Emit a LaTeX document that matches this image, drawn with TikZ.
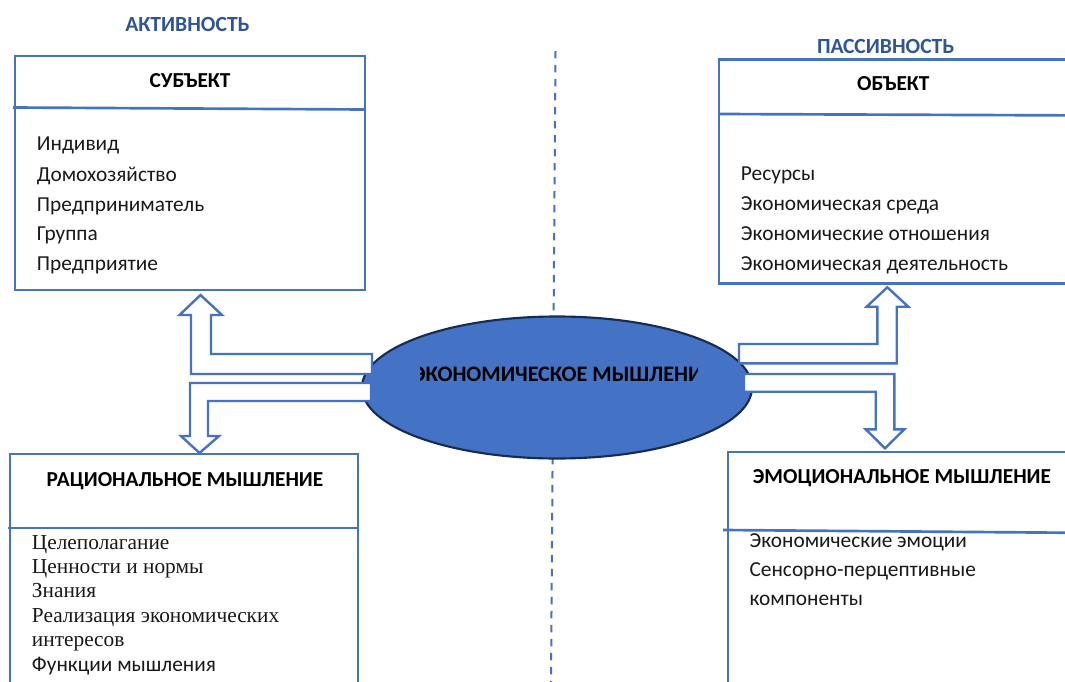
\documentclass[tikz,border=0pt]{standalone}
\usepackage{fontspec}
\usetikzlibrary{shapes.geometric}
\setmainfont{Carlito}
\newfontfamily\timesfont{Liberation Serif}
\definecolor{boxblue}{HTML}{4472C4}
\definecolor{headblue}{HTML}{2F5597}
\definecolor{ellborder}{HTML}{172C51}
\begin{document}
\begin{tikzpicture}[x=0.75pt,y=-0.75pt,
  boxnode/.style={draw=boxblue, line width=2pt, fill=white, rectangle, inner sep=0pt},
  divline/.style={draw=boxblue, line width=2pt},
  dashline/.style={draw=boxblue, line width=1.5pt, dash pattern=on 5.5pt off 5pt},
  ell/.style={ellipse, draw=ellborder, line width=1.6pt, fill=boxblue, inner sep=0pt,
    minimum width=292.5pt, minimum height=106.5pt},
  blockarrow/.style={draw=boxblue, line width=1.8pt, fill=white, line join=miter},
  heading/.style={font=\fontsize{16.2}{19}\selectfont\bfseries, text=headblue, anchor=base, inner sep=0pt},
  title/.style={font=\fontsize{16}{19}\selectfont\bfseries, text=black, anchor=base, inner sep=0pt},
  item/.style={font=\fontsize{16}{19}\selectfont, text=black!90, anchor=base west, inner sep=0pt},
  sitem/.style={font=\timesfont\fontsize{16}{19}\selectfont, text=black!90, anchor=base west, inner sep=0pt},
  elltext/.style={font=\fontsize{16.6}{19}\selectfont\bfseries, text=black, anchor=base, inner sep=0pt}]
\clip (0,0) rectangle (1065,682);
\fill[white] (0,0) rectangle (1065,682);

% dashed axis
\coordinate (dtop) at (555.5,51);
\coordinate (dbot) at (551,682);
\draw[dashline] (dtop) -- (dbot);

% central ellipse
\node[ell] (ell) at (557,387.5) {};
\begin{scope}
  \clip (420,355) rectangle (697,400);
  \node[elltext] (elltxt) at (563.5,381.7) {ЭКОНОМИЧЕСКОЕ МЫШЛЕНИЕ};
\end{scope}

% block arrows
\draw[blockarrow] (372,354) -- (211,354) -- (211,315) -- (222,315) -- (200.5,295)
  -- (179.5,315) -- (191,315) -- (191,374) -- (372,374) -- cycle;
\draw[blockarrow] (371,383) -- (190,383) -- (190,436) -- (181,436) -- (199.5,453)
  -- (219,436) -- (208,436) -- (208,401) -- (371,401) -- cycle;
\draw[blockarrow] (739,344) -- (877.3,344) -- (877.3,306.7) -- (866.7,306.7) -- (887.3,287.3)
  -- (908.3,306.7) -- (896.7,306.7) -- (896.7,363.3) -- (739,363.3) -- cycle;
\draw[blockarrow] (744,374) -- (894.3,374) -- (894.3,429.3) -- (904.3,429.3) -- (885,448.3)
  -- (865.7,429.3) -- (875.7,429.3) -- (875.7,391.7) -- (744,391.7) -- cycle;

% headings
\node[heading] (akt) at (187.5,31.7) {АКТИВНОСТЬ};
\node[heading] (pas) at (885.7,53.3) {ПАССИВНОСТЬ};

% subject box
\node[boxnode, minimum width=262.5pt, minimum height=175.5pt] (subj) at (190,173) {};
\coordinate (sd1) at (13,107.5);
\coordinate (sd2) at (365,109.5);
\draw[divline] (sd1) -- (sd2);
\node[title] (subjt) at (190,87.3) {СУБЪЕКТ};
\node[item] (s1) at (36.7,150.7) {Индивид};
\node[item] (s2) at (36.7,181) {Домохозяйство};
\node[item] (s3) at (36.7,211.5) {Предприниматель};
\node[item] (s4) at (36.7,240.7) {Группа};
\node[item] (s5) at (36.7,270.7) {Предприятие};

% object box
\node[boxnode, minimum width=285.75pt, minimum height=168pt] (obj) at (909.5,171.3) {};
\coordinate (od1) at (719,114);
\coordinate (od2) at (1100,115.5);
\draw[divline] (od1) -- (od2);
\node[title] (objt) at (893.3,90) {ОБЪЕКТ};
\node[item] (o1) at (740.7,180.7) {Ресурсы};
\node[item] (o2) at (740.7,210.3) {Экономическая среда};
\node[item] (o3) at (740.7,240.3) {Экономические отношения};
\node[item] (o4) at (740.7,270.3) {Экономическая деятельность};

% rational box
\node[boxnode, minimum width=261pt, minimum height=199.5pt] (rat) at (184,587) {};
\coordinate (rd1) at (8,528);
\coordinate (rd2) at (358,528);
\draw[divline] (rd1) -- (rd2);
\node[title] (ratt) at (185,486) {РАЦИОНАЛЬНОЕ МЫШЛЕНИЕ};
\node[sitem] (r1) at (31.7,549.3) {Целеполагание};
\node[sitem] (r2) at (31.7,573.3) {Ценности и нормы};
\node[sitem] (r3) at (31.7,597.3) {Знания};
\node[sitem] (r4) at (31.7,622.3) {Реализация экономических};
\node[sitem] (r5) at (31.7,646) {интересов};
\node[item] (r6) at (31.7,671.7) {Функции мышления};

% emotional box
\node[boxnode, minimum width=279pt, minimum height=201pt] (emo) at (914,586) {};
\coordinate (ed1) at (723,530);
\coordinate (ed2) at (1100,533);
\draw[divline] (ed1) -- (ed2);
\node[title] (emot) at (902,483.3) {ЭМОЦИОНАЛЬНОЕ МЫШЛЕНИЕ};
\node[item] (e1) at (749.3,547.3) {Экономические эмоции};
\node[item] (e2) at (749.3,576.7) {Сенсорно-перцептивные};
\node[item] (e3) at (749.3,605.7) {компоненты};
\end{tikzpicture}
\end{document}
